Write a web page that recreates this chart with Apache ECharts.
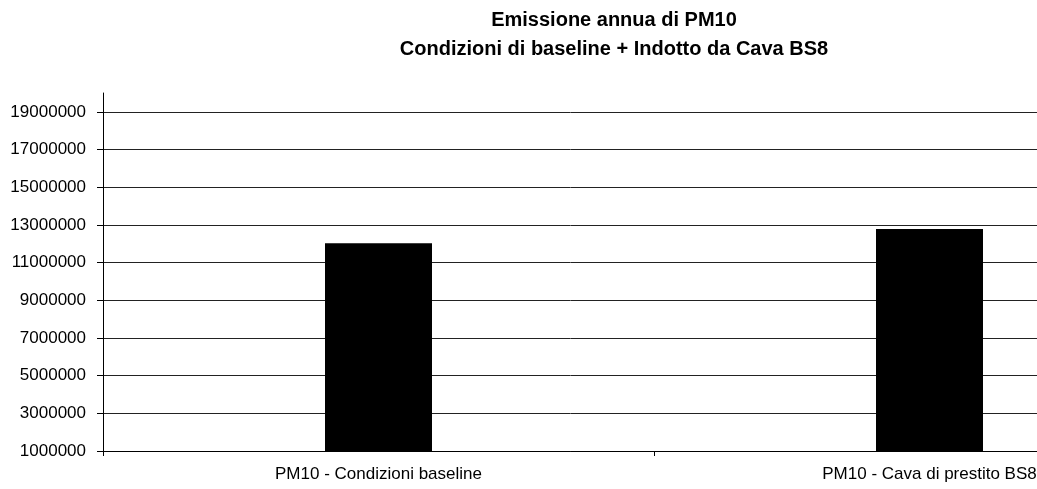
<!DOCTYPE html>
<html>
<head>
<meta charset="utf-8">
<script src="https://cdn.jsdelivr.net/npm/echarts@6/dist/echarts.min.js"></script>
<style>
html,body{margin:0;padding:0;background:#fff;}
#chart{width:1037px;height:489px;}
</style>
</head>
<body>
<div id="chart"></div>
<script>
const titleLines = ["Emissione annua di PM10", "Condizioni di baseline + Indotto da Cava BS8"];
const categories = ["PM10 - Condizioni baseline", "PM10 - Cava di prestito BS8"];
const emissions = [12020000, 12780000];
const yMin = 1000000;
const yMax = 20000000;
const yStep = 2000000;

const chart = echarts.init(document.getElementById('chart'), null, {renderer: 'canvas'});
chart.setOption({
  backgroundColor: '#fff',
  animation: false,
  title: {
    text: titleLines.join('\n'),
    left: 614,
    textAlign: 'center',
    top: 6,
    padding: 0,
    textStyle: {
      fontFamily: '"Liberation Sans", Arial, sans-serif',
      fontWeight: 'bold',
      fontSize: 20,
      lineHeight: 29,
      color: '#000'
    }
  },
  grid: {left: 103, top: 93, width: 1102, height: 358, containLabel: false, outerBoundsMode: 'none'},
  xAxis: {
    type: 'category',
    data: categories,
    axisLine: {lineStyle: {color: '#000', width: 1}},
    axisTick: {show: true, length: 5, lineStyle: {color: '#000'}},
    axisLabel: {
      margin: 15,
      fontFamily: '"Liberation Sans", Arial, sans-serif',
      fontSize: 17,
      color: '#000',
      interval: 0
    }
  },
  yAxis: {
    type: 'value',
    min: yMin,
    max: yMax,
    interval: yStep,
    axisLine: {show: true, lineStyle: {color: '#000', width: 1}},
    axisTick: {show: true, length: 6, lineStyle: {color: '#000'}},
    axisLabel: {
      margin: 17,
      showMaxLabel: false,
      formatter: v => String(v),
      fontFamily: '"Liberation Sans", Arial, sans-serif',
      fontSize: 17,
      color: '#000'
    },
    splitLine: {show: true, showMaxLine: false, lineStyle: {color: '#222', width: 1}}
  },
  series: [{
    type: 'bar',
    data: emissions,
    barWidth: 107,
    itemStyle: {color: '#000'}
  }]
});
</script>
</body>
</html>
